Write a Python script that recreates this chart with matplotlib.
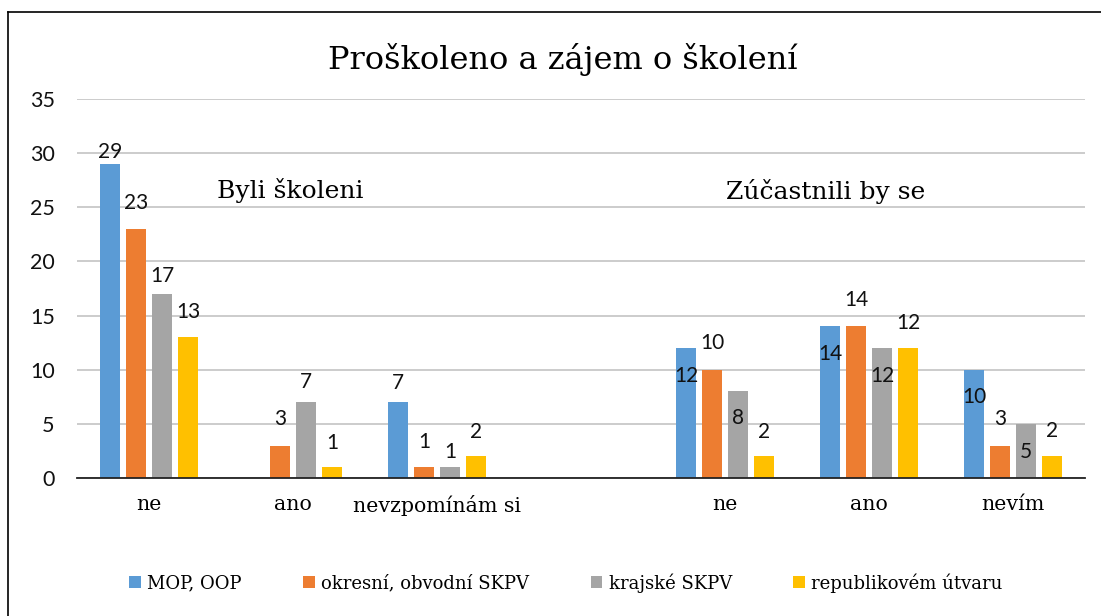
import numpy as np
import matplotlib.pyplot as plt
from matplotlib.lines import Line2D

categories = ["ne", "ano", "nevzpomínám si", "ne", "ano", "nevím"]
cat_pos = [0, 1, 2, 4, 5, 6]

series_names = ["MOP, OOP", "okresní, obvodní SKPV", "krajské SKPV", "republikovém útvaru"]
mop_oop = [29, 0, 7, 12, 14, 10]
okresni = [23, 3, 1, 10, 14, 3]
krajske = [17, 7, 1, 8, 12, 5]
republika = [13, 1, 2, 2, 12, 2]

group_titles = ["Byli školeni", "Zúčastnili by se"]
title = "Proškoleno a zájem o školení"

colors = ["#5B9BD5", "#ED7D31", "#A5A5A5", "#FFC000"]

# label vertical shift (pixels) from the bar top, labels were moved by hand
label_dy = [
    [12, 26, 18, 25],
    [None, 27, 20, 24],
    [19, 25, 15, 24],
    [-28, 27, -27, 24],
    [-28, 26, -28, 25],
    [-27, 27, -28, 25],
]

serif = ["DejaVu Serif"]
sans = ["Lato", "DejaVu Sans"]

fig = plt.figure(figsize=(11.01, 6.16), dpi=100)
ax = fig.add_axes([77 / 1101, 138 / 616, 1008 / 1101, 379 / 616])

series = [mop_oop, okresni, krajske, republika]
width = 0.139
step = 0.1806
x = np.array(cat_pos, dtype=float)

for i, vals in enumerate(series):
    xs = x + (i - 1.5) * step
    ax.bar(xs, vals, width=width, color=colors[i], label=series_names[i], zorder=3)
    for j, v in enumerate(vals):
        dy = label_dy[j][i]
        if dy is None:
            continue
        ax.annotate(str(v), (xs[j], v), xytext=(0, dy), textcoords="offset pixels",
                    ha="center", va="center", fontsize=15, family=sans, color="#111111")

ax.set_xlim(-0.5, 6.5)
ax.set_ylim(0, 35)
ax.set_yticks(range(0, 36, 5))
ax.set_xticks(cat_pos)
ax.set_xticklabels(categories, family=serif, fontsize=14.8)
ax.tick_params(axis="y", length=0, pad=16, labelsize=15.5)
ax.tick_params(axis="x", length=0, pad=12)
for lab in ax.get_yticklabels():
    lab.set_family(sans)
    lab.set_color("#111111")

ax.grid(axis="y", color="#C4C4C4", linewidth=1.2, zorder=0)
for s in ["top", "right", "left"]:
    ax.spines[s].set_visible(False)
ax.spines["bottom"].set_color("#222222")
ax.spines["bottom"].set_linewidth(1.3)
ax.spines["bottom"].set_zorder(4)

fig.text(563 / 1101, 1 - 60 / 616, title, ha="center", va="center", fontsize=23, family=serif)
fig.text(290 / 1101, 1 - 190 / 616, group_titles[0], ha="center", va="center", fontsize=18, family=serif)
fig.text(826 / 1101, 1 - 192 / 616, group_titles[1], ha="center", va="center", fontsize=18, family=serif)

handles, labels = ax.get_legend_handles_labels()
fig.legend(handles, labels, loc="center", bbox_to_anchor=(566 / 1101, 1 - 583 / 616), ncol=4,
           frameon=False, prop={"family": serif, "size": 13}, handlelength=0.65, handleheight=0.65,
           handletextpad=0.35, columnspacing=3.4)

# chart area border (only top and left visible in the crop)
fig.add_artist(Line2D([8 / 1101, 8 / 1101], [0, 1 - 12 / 616], color="black", linewidth=1.2))
fig.add_artist(Line2D([8 / 1101, 1], [1 - 12 / 616, 1 - 12 / 616], color="black", linewidth=1.2))

fig.savefig("out.png", dpi=100)
